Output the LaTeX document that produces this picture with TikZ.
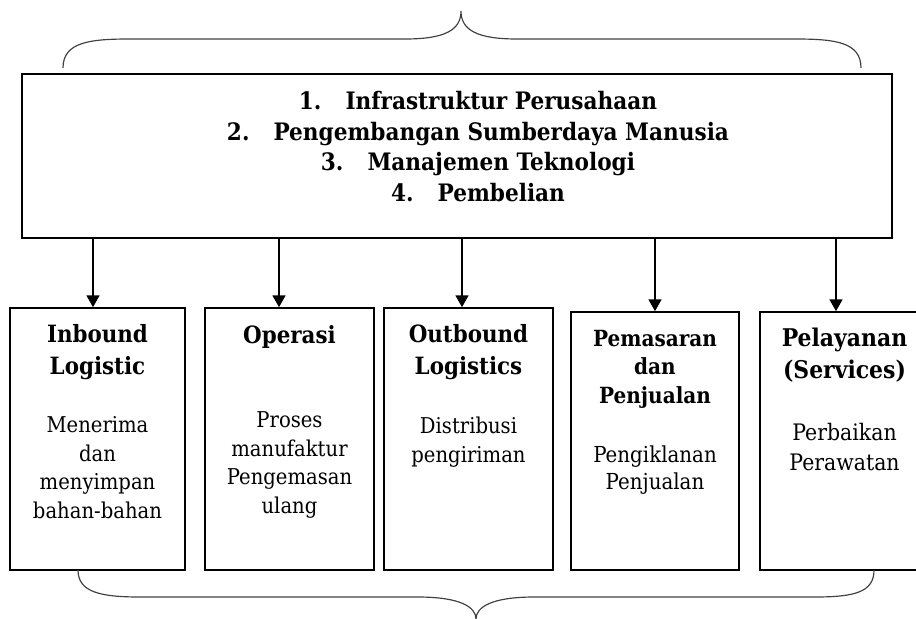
\documentclass[tikz,border=0pt]{standalone}
\usepackage{fontspec}
\setmainfont{DejaVu Serif}[FakeStretch=0.9]
\usetikzlibrary{arrows.meta}

\def\px{0.03cm}

\begin{document}
\begin{tikzpicture}[x=\px,y=-\px,
  kotak/.style={draw, line width=1.4pt, inner sep=0pt},
  judul/.style={font=\bfseries\fontsize{20.3}{26.5}\selectfont, align=center, anchor=base, inner sep=0pt},
  isi/.style={font=\fontsize{18.6}{24.3}\selectfont, align=center, anchor=base, inner sep=0pt},
  panah/.style={-{Triangle[width=11pt,length=10pt]}, line width=1.2pt},
  kurung/.style={line width=1pt, color=black!75}]
\useasboundingbox (0,0) rectangle (916,619);
% kotak aktivitas pendukung
\node[kotak, minimum width=870*\px, minimum height=164*\px] (infra) at (457,156) {};
\node[font=\bfseries\fontsize{20.5}{26}\selectfont, align=center, anchor=base, inner sep=0pt] (daftar) at (478,201)
  {1.\hspace{1em}Infrastruktur Perusahaan\\
   2.\hspace{1em}Pengembangan Sumberdaya Manusia\\
   3.\hspace{1em}Manajemen Teknologi\\
   4.\hspace{1em}Pembelian};
% kotak aktivitas utama
\node[kotak, minimum width=175*\px, minimum height=262*\px] (inbound) at (97.5,439) {};
\node[kotak, minimum width=169*\px, minimum height=262*\px] (operasi) at (289.5,439) {};
\node[kotak, minimum width=169*\px, minimum height=262*\px] (outbound) at (468.5,439) {};
\node[kotak, minimum width=168*\px, minimum height=258*\px] (pemasaran) at (655,441) {};
\node[kotak, minimum width=169*\px, minimum height=258*\px] (pelayanan) at (844.5,441) {};
\node[judul] (inboundJ) at (97.5,374) {Inbound\\Logistic};
\node[isi] (inboundI) at (97.5,518) {Menerima\\dan\\menyimpan\\bahan-bahan};
\node[judul] (operasiJ) at (289.5,343) {Operasi};
\node[isi] (operasiI) at (289.5,513) {Proses\\manufaktur\\Pengemasan\\ulang};
\node[judul] (outboundJ) at (468.5,374) {Outbound\\Logistics};
\node[isi] (outboundI) at (468.5,462) {Distribusi\\pengiriman};
\node[judul, font=\bfseries\fontsize{19}{24.3}\selectfont] (pemasaranJ) at (655,403) {Pemasaran\\dan\\Penjualan};
\node[isi, font=\fontsize{18.8}{23}\selectfont] (pemasaranI) at (655,489) {Pengiklanan\\Penjualan};
\node[judul, font=\bfseries\fontsize{20.8}{26.5}\selectfont] (pelayananJ) at (844.5,378) {Pelayanan\\(Services)};
\node[isi, font=\fontsize{19.4}{25.6}\selectfont] (pelayananI) at (844.5,470) {Perbaikan\\Perawatan};
% panah
\coordinate (pA) at (93,238); \coordinate (pB) at (279,238); \coordinate (pC) at (462,238);
\coordinate (pD) at (655,238); \coordinate (pE) at (836,238);
\draw[panah] (pA)--(pA |- inbound.north);
\draw[panah] (pB)--(pB |- operasi.north);
\draw[panah] (pC)--(pC |- outbound.north);
\draw[panah] (pD)--(pD |- pemasaran.north);
\draw[panah] (pE)--(pE |- pelayanan.north);
% kurung kurawal
\draw[kurung] (63,68) .. controls (63,42) and (90,39) .. (130,39) -- (405,39) .. controls (445,39) and (461,30) .. (461,11) .. controls (461,30) and (477,39) .. (517,39) -- (795,39) .. controls (835,39) and (861,42) .. (861,68);
\draw[kurung] (78,570) .. controls (78,592) and (100,597) .. (140,597) -- (418,597) .. controls (460,597) and (476,607) .. (476,619) .. controls (476,607) and (492,597) .. (534,597) -- (815,597) .. controls (855,597) and (874,592) .. (874,570);
\end{tikzpicture}
\end{document}
